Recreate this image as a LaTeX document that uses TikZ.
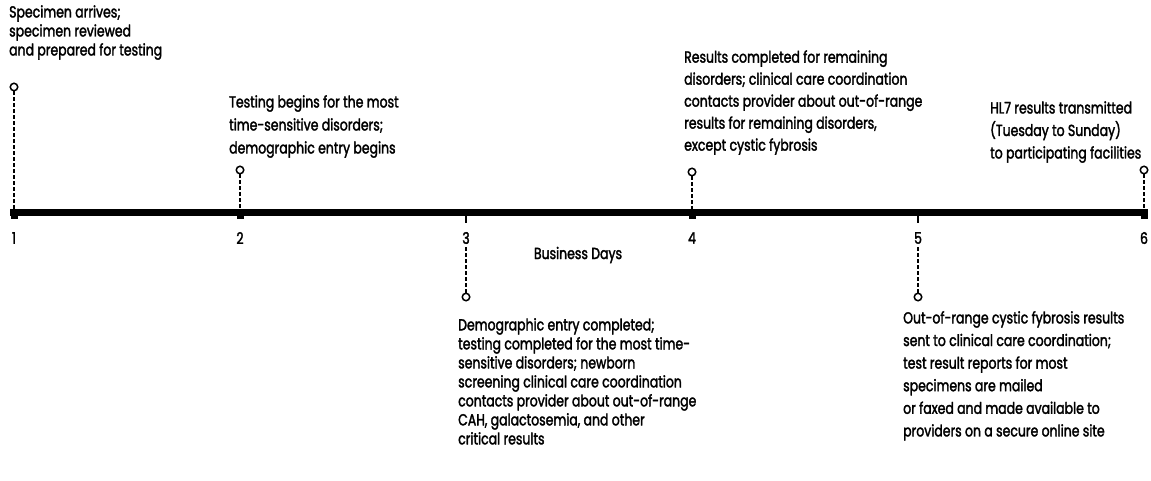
\documentclass[tikz,border=0pt]{standalone}
\usepackage{fontspec}
\setmainfont{Poppins}[FakeStretch=0.78,FakeBold=2]
\begin{document}
\begin{tikzpicture}[x=1pt,y=-1pt,
  lbl/.style={font=\fontsize{16}{#1}\selectfont, align=left, inner sep=0pt},
  num/.style={font=\fontsize{16}{21}\selectfont, inner sep=0pt},
  dot/.style={circle, draw, line width=1.5pt, minimum size=7.5pt, inner sep=0pt, fill=white},
  conn/.style={line width=1.4pt, dash pattern=on 4pt off 2pt},
  axisline/.style={line width=7pt},
  stub/.style={line width=2.5pt}]
\useasboundingbox (0,0) rectangle (1151,481);
% tick positions on the axis
\coordinate (t1) at (14,213);
\coordinate (t2) at (240,213);
\coordinate (t3) at (466,213);
\coordinate (t4) at (692,213);
\coordinate (t5) at (918,213);
\coordinate (t6) at (1144,213);
\coordinate (L) at (10,213);
\coordinate (R) at (1148,213);
% circles
\node[dot] (c1) at (14,87) {};
\node[dot] (c2) at (240,170) {};
\node[dot] (c4) at (692,172) {};
\node[dot] (c6) at (1144,170) {};
\node[dot] (c3) at (466,297) {};
\node[dot] (c5) at (918,297) {};
% numbers
\node[num] (n1) at (14,238) {1};
\node[num] (n2) at (240,238) {2};
\node[num] (n3) at (466,238) {3};
\node[num] (n4) at (692,238) {4};
\node[num] (n5) at (918,238) {5};
\node[num] (n6) at (1144,238) {6};
\node[num] (bd) at (578,255) {Business Days};
% connectors
\draw[conn] (c1) -- (t1);
\draw[conn] (c2) -- (t2);
\draw[conn] (c4) -- (t4);
\draw[conn] (c6) -- (t6);
\draw[conn] ([yshift=-3pt]n3.south) -- (c3);
\draw[conn] ([yshift=-3pt]n5.south) -- (c5);
% axis
\draw[axisline] (L) -- (R);
\foreach \t in {t1,t2,t4,t6}{\fill (\t) ++(-3.5,3) rectangle ++(7,3.5);}
\draw[stub] (t3) -- ++(0,10);
\draw[stub] (t5) -- ++(0,10);
% texts
\node[lbl=19, anchor=south west] (x1) at (9,60) {Specimen arrives;\\specimen reviewed\\and prepared for testing};
\node[lbl=23, anchor=south west] (x2) at (229,158) {Testing begins for the most\\time-sensitive disorders;\\demographic entry begins};
\node[lbl=22, anchor=south west] (x4) at (684,155) {Results completed for remaining\\disorders; clinical care coordination\\contacts provider about out-of-range\\results for remaining disorders,\\except cystic fybrosis};
\node[lbl=22.5, anchor=south west] (x6) at (990,163) {HL7 results transmitted\\(Tuesday to Sunday)\\to participating facilities};
\node[lbl=19, anchor=north west] (x3) at (458,318) {Demographic entry completed;\\testing completed for the most time-\\sensitive disorders; newborn\\screening clinical care coordination\\contacts provider about out-of-range\\CAH, galactosemia, and other\\critical results};
\node[lbl=22.6, anchor=north west] (x5) at (903,311) {Out-of-range cystic fybrosis results\\sent to clinical care coordination;\\test result reports for most\\specimens are mailed\\or faxed and made available to\\providers on a secure online site};
\end{tikzpicture}
\end{document}
